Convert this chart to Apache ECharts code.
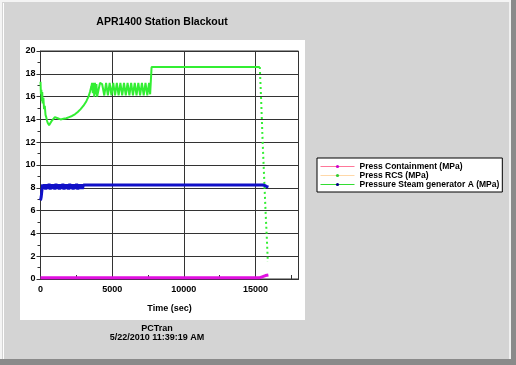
<!DOCTYPE html>
<html>
<head>
<meta charset="utf-8">
<script src="https://cdn.jsdelivr.net/npm/echarts@6/dist/echarts.min.js"></script>
<style>html,body{margin:0;padding:0;background:#d4d4d4;}#c{width:516px;height:365px;}</style>
</head>
<body>
<div id="c"></div>
<script>
const seriesNames = ['Press Containment (MPa)', 'Press RCS (MPa)', 'Pressure Steam generator A (MPa)'];
const xTickLabels = [0, 5000, 10000, 15000];

const contTime = [0, 5000, 10000, 15000, 15300, 15500, 15700, 15900];
const contValue = [0.1, 0.1, 0.1, 0.1, 0.12, 0.2, 0.3, 0.35];

const rcsTime = [0, 30, 60, 90, 120, 150, 200, 250, 300, 350, 400, 450, 500, 600, 700, 800, 900, 1000, 1100, 1200, 1400, 1600, 1800, 2000, 2200, 2400, 2600, 2800, 3000, 3200, 3350, 3450, 3550, 3600, 3650, 3700, 3750, 3800, 3850, 3900, 3950, 4000, 4150, 4300, 4450, 4575, 4700, 4825, 4950, 5075, 5200, 5325, 5450, 5575, 5700, 5825, 5950, 6075, 6200, 6325, 6450, 6575, 6700, 6825, 6950, 7075, 7200, 7325, 7450, 7575, 7650, 7750, 10000, 15300];
const rcsValue = [17.3, 16.2, 16.6, 15.6, 16.4, 15.4, 15.9, 14.9, 15.2, 14.4, 14.2, 13.9, 13.7, 13.5, 13.6, 13.9, 14.0, 14.2, 14.3, 14.1, 14.0, 14.05, 14.1, 14.2, 14.3, 14.45, 14.65, 14.9, 15.2, 15.6, 16.0, 16.4, 16.9, 17.2, 16.3, 17.2, 16.0, 17.2, 16.2, 17.1, 16.0, 16.1, 17.2, 17.1, 16.1, 17.2, 16.1, 17.2, 16.1, 17.2, 16.1, 17.2, 16.1, 17.2, 16.1, 17.2, 16.1, 17.2, 16.1, 17.2, 16.1, 17.2, 16.1, 17.2, 16.1, 17.2, 16.1, 17.2, 16.1, 17.2, 16.2, 18.6, 18.6, 18.6];

const rcsDropTime = [15300, 15400, 15500, 15600, 15700, 15800, 15860];
const rcsDropValue = [18.6, 15.5, 12.0, 9.0, 6.0, 3.3, 1.5];

const sgTime = [0, 50, 100, 150, 200, 280, 360, 440, 520, 600, 680, 760, 840, 920, 1000, 1080, 1160, 1240, 1320, 1400, 1480, 1560, 1640, 1720, 1800, 1880, 1960, 2040, 2120, 2200, 2280, 2360, 2440, 2520, 2600, 2680, 2760, 2840, 2920, 3000, 8000, 15500, 15650, 15800, 15900];
const sgValue = [6.9, 7.2, 7.8, 8.3, 7.9, 8.3, 7.85, 8.3, 7.9, 8.35, 7.85, 8.3, 7.9, 8.3, 7.85, 8.35, 7.9, 8.3, 7.85, 8.3, 7.9, 8.35, 7.85, 8.3, 7.9, 8.3, 7.85, 8.35, 7.9, 8.3, 7.85, 8.3, 7.9, 8.35, 7.85, 8.3, 7.9, 8.3, 7.9, 8.25, 8.25, 8.25, 8.2, 8.1, 8.05];

function zip(a, b) { return a.map((t, i) => [t, b[i]]); }

const chart = echarts.init(document.getElementById('c'), null, {renderer: 'canvas'});
const font = 'Liberation Sans, Arial, sans-serif';
chart.setOption({
  backgroundColor: '#d4d4d4',
  animation: false,
  graphic: [
    {type: 'rect', z: -10, shape: {x: 0, y: 0, width: 516, height: 2}, style: {fill: '#f4f4f4'}},
    {type: 'rect', z: -10, shape: {x: 0, y: 0, width: 2, height: 365}, style: {fill: '#f4f4f4'}},
    {type: 'rect', z: -10, shape: {x: 3, y: 3, width: 1, height: 356}, style: {fill: '#ffffff'}},
    {type: 'rect', z: -10, shape: {x: 509, y: 2, width: 2, height: 358}, style: {fill: '#f0f0f0'}},
    {type: 'rect', z: -10, shape: {x: 511, y: 0, width: 5, height: 365}, style: {fill: '#8a8a8a'}},
    {type: 'rect', z: -10, shape: {x: 0, y: 359, width: 516, height: 6}, style: {fill: '#8a8a8a'}},
    {type: 'rect', z: -10, shape: {x: 20, y: 40, width: 285, height: 280}, style: {fill: '#ffffff'}},
    {type: 'text', z: 5, style: {text: 'APR1400 Station Blackout', x: 162, y: 22, align: 'center', verticalAlign: 'middle', font: 'bold 10.5px ' + font, fill: '#000'}},
    {type: 'text', z: 5, style: {text: 'PCTran', x: 157, y: 329, align: 'center', verticalAlign: 'middle', font: 'bold 9px ' + font, fill: '#000'}},
    {type: 'text', z: 5, style: {text: '5/22/2010 11:39:19 AM', x: 157, y: 338, align: 'center', verticalAlign: 'middle', font: 'bold 9px ' + font, fill: '#000'}}
  ],
  grid: {left: 40.5, top: 51, width: 258, height: 228, show: true, backgroundColor: '#ffffff', borderColor: '#333', borderWidth: 1},
  legend: {
    orient: 'vertical', left: 317, top: 158,
    backgroundColor: '#ffffff', borderColor: '#000', borderWidth: 1,
    padding: [4, 3, 3, 3], itemGap: 0, itemWidth: 34, itemHeight: 4,
    textStyle: {fontFamily: font, fontWeight: 'bold', fontSize: 8.5, lineHeight: 9, color: '#000'},
    data: [
      {name: seriesNames[0], lineStyle: {color: '#ff7799', width: 1}, itemStyle: {color: '#cc00cc'}},
      {name: seriesNames[1], lineStyle: {color: '#ffd8a8', width: 1}, itemStyle: {color: '#33cc33'}},
      {name: seriesNames[2], lineStyle: {color: '#33dd33', width: 1}, itemStyle: {color: '#000080'}}
    ]
  },
  xAxis: {
    type: 'value', min: 0, max: 18000, interval: 5000,
    name: 'Time (sec)', nameLocation: 'middle', nameGap: 25,
    nameTextStyle: {fontFamily: font, fontWeight: 'bold', fontSize: 9, color: '#000'},
    axisLine: {lineStyle: {color: '#333'}},
    axisTick: {inside: true, length: 4, lineStyle: {color: '#333'}},
    minorTick: {show: true, splitNumber: 2, length: 4, lineStyle: {color: '#333'}},
    axisLabel: {showMaxLabel: false, margin: 6, fontFamily: font, fontWeight: 'bold', fontSize: 9, color: '#000',
      formatter: v => xTickLabels.indexOf(v) >= 0 ? String(v) : ''},
    splitLine: {show: true, lineStyle: {color: '#333', width: 1}}
  },
  yAxis: {
    type: 'value', min: 0, max: 20, interval: 2,
    axisLine: {show: true, lineStyle: {color: '#333'}},
    axisTick: {show: true, length: 4, lineStyle: {color: '#333'}},
    minorTick: {show: true, splitNumber: 2, length: 3, lineStyle: {color: '#333'}},
    axisLabel: {margin: 5, fontFamily: font, fontWeight: 'bold', fontSize: 9, color: '#000'},
    splitLine: {show: true, lineStyle: {color: '#333', width: 1}}
  },
  series: [
    {name: seriesNames[0], type: 'line', data: zip(contTime, contValue), symbol: 'circle', showSymbol: false,
      lineStyle: {color: '#e010e0', width: 3}, itemStyle: {color: '#e010e0'}, z: 4},
    {name: seriesNames[1], type: 'line', data: zip(rcsTime, rcsValue), symbol: 'circle', showSymbol: false,
      lineStyle: {color: '#33ee33', width: 2}, itemStyle: {color: '#33ee33'}, z: 3},
    {name: 'rcsDrop', type: 'line', data: zip(rcsDropTime, rcsDropValue), symbol: 'none',
      lineStyle: {color: '#33ee33', width: 2, type: [2, 3]}, z: 3},
    {name: seriesNames[2], type: 'line', data: zip(sgTime, sgValue), symbol: 'circle', showSymbol: false,
      lineStyle: {color: '#1010c8', width: 3}, itemStyle: {color: '#1010c8'}, z: 3}
  ]
});
</script>
</body>
</html>
